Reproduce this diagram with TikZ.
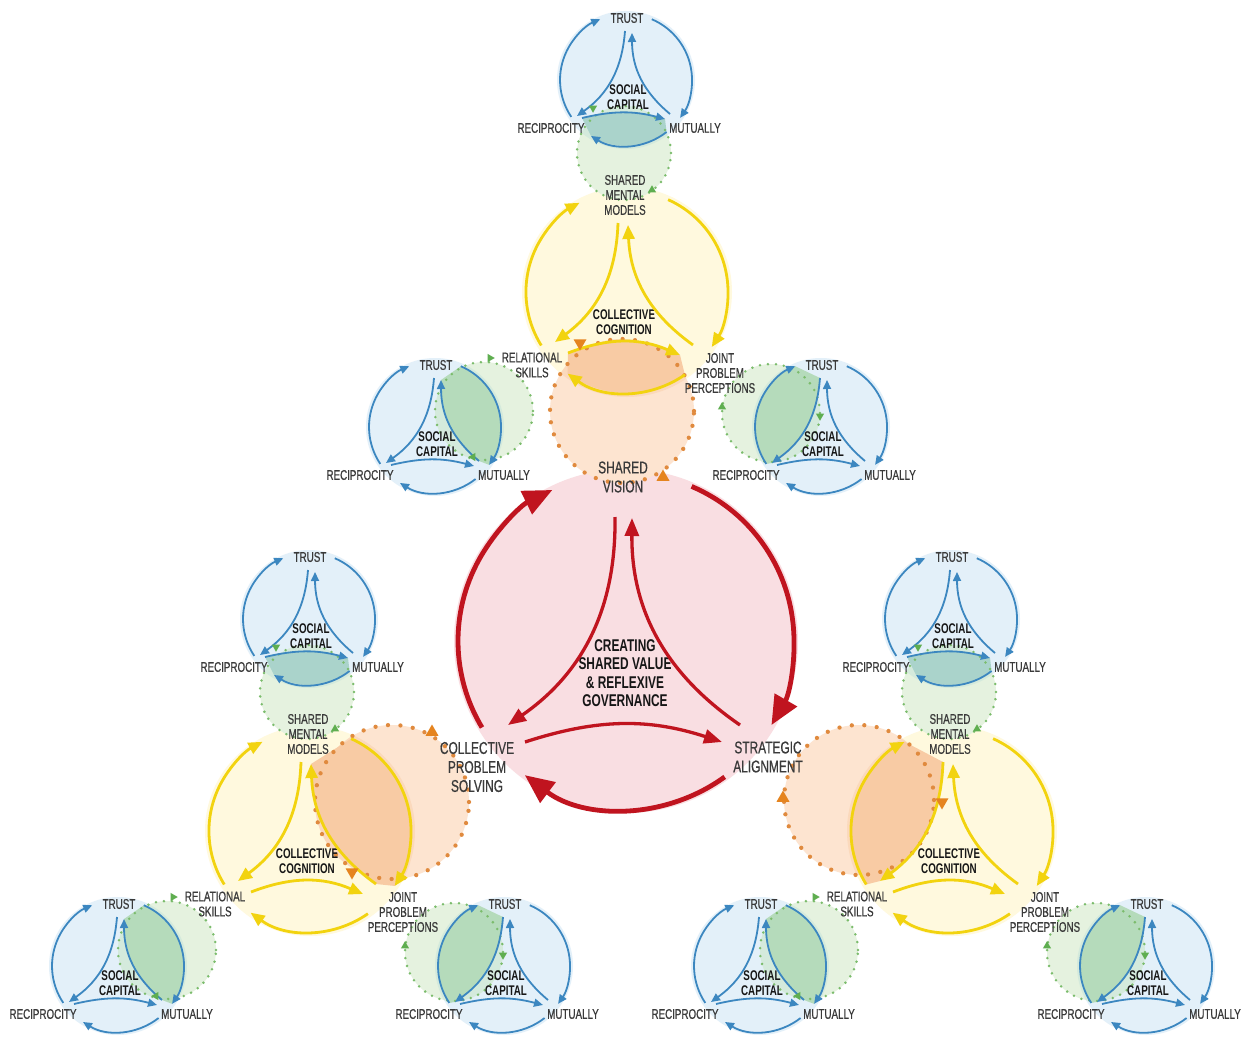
\documentclass[tikz,border=0pt]{standalone}
\usepackage{fontspec}
\setmainfont{Liberation Sans}[FakeStretch=0.7]
\newfontfamily\lblfont{Liberation Sans}[FakeStretch=0.7,FakeBold=0.6]
\usetikzlibrary{arrows.meta,shapes.geometric}

\definecolor{bline}{HTML}{3C87C0}
\definecolor{bfill}{HTML}{E3F0F9}
\definecolor{gfill}{HTML}{E5F2DF}
\definecolor{gmid}{HTML}{D4EADC}
\definecolor{blensb}{HTML}{AAD3CB}
\definecolor{blenss}{HTML}{B5DBBB}
\definecolor{gdot}{HTML}{7BBC6C}
\definecolor{gmark}{HTML}{5FAE50}
\definecolor{yline}{HTML}{F2D30F}
\definecolor{yfill}{HTML}{FFF9DE}
\definecolor{ofill}{HTML}{FDE4D0}
\definecolor{omid}{HTML}{FBD9BC}
\definecolor{olens}{HTML}{F8CBA4}
\definecolor{odot}{HTML}{E08A3E}
\definecolor{omark}{HTML}{E5841F}
\definecolor{rline}{HTML}{C0141F}
\definecolor{rfill}{HTML}{F9DEE2}
\definecolor{lblgray}{HTML}{3A3A3A}
\definecolor{lblbold}{HTML}{161616}

\pgfdeclarelayer{bgw}
\pgfdeclarelayer{fillA}
\pgfdeclarelayer{fillB}
\pgfdeclarelayer{overlap}
\pgfdeclarelayer{lens}
\pgfdeclarelayer{dots}
\pgfsetlayers{bgw,fillA,fillB,overlap,lens,dots,main}

\tikzset{
  blbl/.style={text=lblgray, font=\lblfont\fontsize{14}{15}\selectfont, inner sep=0pt, align=center},
  bbold/.style={text=lblbold, font=\bfseries\fontsize{14}{15}\selectfont, inner sep=0pt, align=center},
  rlbl/.style={text=lblgray, font=\lblfont\fontsize{17}{19}\selectfont, inner sep=0pt, align=center},
  rbold/.style={text=lblbold, font=\bfseries\fontsize{17}{18.3}\selectfont, inner sep=0pt, align=center},
  barc/.style={draw=bline, line width=1.8pt, -{Triangle[length=9pt,width=8pt]}},
  yarc/.style={draw=yline, line width=2.8pt, -{Triangle[length=14pt,width=12pt]}},
  router/.style={draw=rline, line width=4.8pt, -{Triangle[length=29pt,width=25pt]}},
  rinner/.style={draw=rline, line width=3.3pt, -{Triangle[length=18pt,width=14pt]}},
  gdots/.style={draw=gdot, line width=2.8pt, line cap=round, dash pattern=on 0pt off 8pt},
  odots/.style={draw=odot, line width=4.3pt, line cap=round, dash pattern=on 0pt off 12.5pt},
  gtri/.style={regular polygon, regular polygon sides=3, fill=gmark, inner sep=0pt, minimum size=9.5pt},
  otri/.style={regular polygon, regular polygon sides=3, fill=omark, inner sep=0pt, minimum size=15pt},
}

% social capital triad: #1 name prefix, #2,#3 position of TRUST,
% #4 darker lens edge (0 bottom, 1 trust-mutually, 2 trust-reciprocity)
\newcommand\sctriad[4]{%
  \begin{scope}[shift={(#2,-#3)}]
    \coordinate (#1c) at (-1,-62);
    \begin{pgfonlayer}{fillA}
      \fill[bfill] (#1c) circle[radius=69];
    \end{pgfonlayer}
    \begin{pgfonlayer}{lens}
      \ifcase#4\relax
        \fill[blensb] (-45,-100) to[bend left=14] (38,-101) -- (39.6,-114) arc[start angle=-52,end angle=-122,radius=66] -- cycle;
      \or
        \fill[blenss] (24.8,-1.25) arc[start angle=67,end angle=-35,radius=66] -- (43,-96) to[bend left=25] (5,-15) -- cycle;
      \or
        \fill[blenss] (-55.7,-98.9) arc[start angle=214,end angle=113,radius=66] -- (-2,-13) to[bend left=25] (-50,-98) -- cycle;
      \fi
    \end{pgfonlayer}
    \node[blbl] (#1t) at (0,0) {TRUST};
    \node[blbl] (#1r) at (-76,-110) {RECIPROCITY};
    \node[blbl] (#1m) at (68,-110) {MUTUALLY};
    \node[bbold] (#1s) at (1,-79) {SOCIAL\\CAPITAL};
    % outer cycle
    \draw[barc] (-55.7,-98.9) arc[start angle=214,end angle=113,radius=66];
    \draw[barc] (24.8,-1.25) arc[start angle=67,end angle=-35,radius=66];
    \draw[barc] (39.6,-114) arc[start angle=-52,end angle=-122,radius=66];
    % inner cycle
    \draw[barc] (-2,-13) to[bend left=25] (-50,-98);
    \draw[barc] (43,-96) to[bend left=25] (5,-15);
    \draw[barc] (-45,-100) to[bend left=14] (38,-101);
  \end{scope}}

% dotted green ring: #1 name, #2,#3 centre, #4 radius, #5 centre of the social capital circle
\newcommand\gring[5]{%
  \coordinate (#1) at (#2,-#3);
  \begin{pgfonlayer}{fillB}
    \fill[gfill] (#1) circle[radius=#4];
  \end{pgfonlayer}
  \begin{pgfonlayer}{overlap}
    \begin{scope}
      \clip (#5) circle[radius=69];
      \fill[gmid] (#1) circle[radius=#4];
    \end{scope}
  \end{pgfonlayer}
  \begin{pgfonlayer}{dots}
    \draw[gdots] (#1) circle[radius=#4];
  \end{pgfonlayer}}

% collective cognition cluster: #1 prefix, #2,#3 shift, #4 orange lens edge
% (0 bottom, 1 models-perceptions, 2 models-skills)
\newcommand\cctriad[4]{%
  \begin{scope}[shift={(#2,-#3)}]
    \coordinate (#1y) at (627,-292);
    \begin{pgfonlayer}{fillA}
      \fill[yfill] (#1y) circle[radius=105];
    \end{pgfonlayer}
    \begin{pgfonlayer}{lens}
      \ifcase#4\relax
        \fill[olens] (568,-353) to[bend left=22] (680,-355) -- (684.9,-374.7) arc[start angle=-55,end angle=-126,radius=101] -- cycle;
      \or
        \fill[olens] (668.1,-199.7) arc[start angle=66,end angle=-33,radius=101] -- (693,-345) to[bend left=26] (628,-225) -- cycle;
      \or
        \fill[olens] (541.3,-345.5) arc[start angle=212,end angle=118,radius=101] -- (618,-223) to[bend left=26] (555,-342) -- cycle;
      \fi
    \end{pgfonlayer}
    \node[blbl] (#1smm) at (625,-195) {SHARED\\MENTAL\\MODELS};
    \node[blbl] (#1rs) at (532,-365) {RELATIONAL\\SKILLS};
    \node[blbl] (#1jpp) at (720,-373) {JOINT\\PROBLEM\\PERCEPTIONS};
    \node[bbold] (#1cc) at (624,-322) {COLLECTIVE\\COGNITION};
    % outer cycle
    \draw[yarc] (541.3,-345.5) arc[start angle=212,end angle=118,radius=101];
    \draw[yarc] (668.1,-199.7) arc[start angle=66,end angle=-33,radius=101];
    \draw[yarc] (684.9,-374.7) arc[start angle=-55,end angle=-126,radius=101];
    % inner cycle
    \draw[yarc] (618,-223) to[bend left=26] (555,-342);
    \draw[yarc] (693,-345) to[bend left=26] (628,-225);
    \draw[yarc] (568,-353) to[bend left=22] (680,-355);
    % the three social capital triads
    \sctriad{#1bt}{627}{18}{0}
    \sctriad{#1bl}{436}{365}{1}
    \sctriad{#1br}{822}{365}{2}
    % dotted rings joining them to the cognition triad
    \gring{#1gt}{624}{153}{47}{#1btc}
    \gring{#1gl}{484}{411}{49}{#1blc}
    \gring{#1gr}{771}{413}{49}{#1brc}
    \node[gtri, rotate=180] (#1gt1) at (593,-108) {};
    \node[gtri] (#1gt2) at (652,-190) {};
    \node[gtri, rotate=-90] (#1gl1) at (490,-358) {};
    \node[gtri, rotate=-150] (#1gl2) at (473,-457) {};
    \node[gtri] (#1gr1) at (722,-407) {};
    \node[gtri, rotate=180] (#1gr2) at (820,-416) {};
  \end{scope}}

\begin{document}
\begin{tikzpicture}[x=1pt,y=1pt]
  \useasboundingbox (0,0) rectangle (1243,-1041);
  \begin{pgfonlayer}{bgw}
    \fill[white] (0,0) rectangle (1243,-1041);
  \end{pgfonlayer}

  % three collective cognition clusters
  \cctriad{T}{0}{0}{0}
  \cctriad{L}{-317}{539}{1}
  \cctriad{R}{325}{539}{2}

  % central triad
  \coordinate (rc) at (626,-641);
  \begin{pgfonlayer}{fillA}
    \fill[rfill] (rc) circle[radius=172];
  \end{pgfonlayer}
  \node[rlbl] (sv) at (623,-477) {SHARED\\VISION};
  \node[rlbl] (cps) at (477,-767) {COLLECTIVE\\PROBLEM\\SOLVING};
  \node[rlbl] (sa) at (768,-757) {STRATEGIC\\ALIGNMENT};
  \node[rbold] (csv) at (625,-673) {CREATING\\SHARED VALUE\\\& REFLEXIVE\\GOVERNANCE};
  \draw[router] (482,-727.5) arc[start angle=211,end angle=116,radius=168];
  \draw[router] (691.6,-486.4) arc[start angle=67,end angle=-30,radius=168];
  \draw[router] (724.7,-776.9) arc[start angle=-54,end angle=-127,radius=168];
  \draw[rinner] (615,-517) to[bend left=28] (508,-725);
  \draw[rinner] (740,-725) to[bend left=28] (632,-518);
  \draw[rinner] (525,-742) to[bend left=18] (722,-742);

  % dotted orange rings at the three vertices
  \coordinate (osv) at (622,-411);
  \coordinate (ocps) at (392,-802);
  \coordinate (osa) at (859,-800);
  \begin{pgfonlayer}{fillB}
    \fill[ofill] (osv) circle[radius=72];
    \fill[ofill] (ocps) circle[radius=77];
    \fill[ofill] (osa) circle[radius=75];
  \end{pgfonlayer}
  \begin{pgfonlayer}{overlap}
    \begin{scope}
      \clip (Ty) circle[radius=105];
      \fill[omid] (osv) circle[radius=72];
    \end{scope}
    \begin{scope}
      \clip (Ly) circle[radius=105];
      \fill[omid] (ocps) circle[radius=77];
    \end{scope}
    \begin{scope}
      \clip (Ry) circle[radius=105];
      \fill[omid] (osa) circle[radius=75];
    \end{scope}
  \end{pgfonlayer}
  \begin{pgfonlayer}{dots}
    \draw[odots] (osv) circle[radius=72];
    \draw[odots] (ocps) circle[radius=77];
    \draw[odots] (osa) circle[radius=75];
  \end{pgfonlayer}
  \node[otri, rotate=180] (osv1) at (580,-343) {};
  \node[otri] (osv2) at (663,-477) {};
  \node[otri] (ocps1) at (432,-732) {};
  \node[otri, rotate=180] (ocps2) at (352,-872) {};
  \node[otri, rotate=180] (osa1) at (942,-802) {};
  \node[otri] (osa2) at (783,-798) {};
\end{tikzpicture}
\end{document}
